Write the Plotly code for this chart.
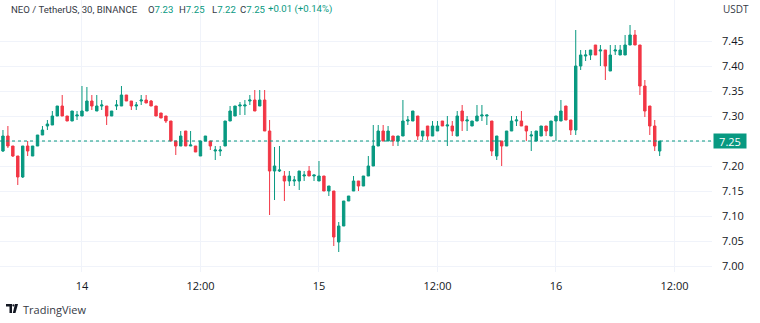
import pandas as pd
import plotly.graph_objects as go

# NEO/USDT 30-minute candles, Binance
start_time = "2023-01-13 16:00"
opens = [7.23, 7.26, 7.24, 7.22, 7.178, 7.24, 7.22, 7.24, 7.262, 7.28,
         7.282, 7.30, 7.32, 7.30, 7.29, 7.30, 7.30, 7.31, 7.33, 7.31,
         7.32, 7.32, 7.30, 7.32, 7.32, 7.342, 7.33, 7.32, 7.33, 7.332,
         7.33, 7.32, 7.306, 7.30, 7.29, 7.25, 7.24, 7.27, 7.24, 7.24,
         7.22, 7.25, 7.25, 7.23, 7.23, 7.24, 7.29, 7.30, 7.32, 7.32,
         7.33, 7.332, 7.32, 7.332, 7.27, 7.19, 7.19, 7.18, 7.17, 7.17,
         7.17, 7.18, 7.19, 7.18, 7.17, 7.18, 7.15, 7.15, 7.048, 7.08,
         7.13, 7.15, 7.17, 7.16, 7.18, 7.20, 7.24, 7.27, 7.25, 7.26,
         7.25, 7.26, 7.29, 7.29, 7.30, 7.26, 7.28, 7.26, 7.27, 7.29,
         7.28, 7.28, 7.26, 7.31, 7.29, 7.28, 7.29, 7.30, 7.30, 7.29,
         7.22, 7.25, 7.24, 7.27, 7.29, 7.29, 7.28, 7.26, 7.25, 7.26,
         7.28, 7.26, 7.29, 7.29, 7.32, 7.292, 7.272, 7.40, 7.42, 7.422,
         7.442, 7.43, 7.432, 7.39, 7.43, 7.422, 7.422, 7.442, 7.462, 7.442,
         7.36, 7.32, 7.28, 7.23]
highs = [7.272, 7.28, 7.24, 7.22, 7.24, 7.25, 7.24, 7.262, 7.28, 7.292,
         7.31, 7.32, 7.342, 7.30, 7.31, 7.31, 7.36, 7.358, 7.342, 7.342,
         7.332, 7.32, 7.31, 7.332, 7.36, 7.342, 7.33, 7.328, 7.342, 7.342,
         7.332, 7.32, 7.306, 7.30, 7.29, 7.25, 7.27, 7.27, 7.27, 7.24,
         7.25, 7.26, 7.25, 7.24, 7.24, 7.29, 7.32, 7.32, 7.328, 7.332,
         7.342, 7.352, 7.352, 7.352, 7.292, 7.238, 7.24, 7.19, 7.19, 7.18,
         7.19, 7.19, 7.20, 7.182, 7.21, 7.18, 7.16, 7.15, 7.088, 7.13,
         7.14, 7.18, 7.17, 7.18, 7.22, 7.282, 7.282, 7.282, 7.28, 7.26,
         7.26, 7.332, 7.30, 7.31, 7.30, 7.27, 7.28, 7.29, 7.29, 7.29,
         7.30, 7.29, 7.31, 7.322, 7.30, 7.29, 7.322, 7.322, 7.302, 7.29,
         7.26, 7.25, 7.27, 7.30, 7.30, 7.31, 7.28, 7.27, 7.27, 7.28,
         7.28, 7.29, 7.30, 7.332, 7.32, 7.292, 7.472, 7.432, 7.432, 7.432,
         7.442, 7.442, 7.432, 7.442, 7.442, 7.442, 7.462, 7.482, 7.472, 7.442,
         7.372, 7.32, 7.292, 7.25]
lows = [7.228, 7.236, 7.218, 7.162, 7.176, 7.22, 7.22, 7.24, 7.262, 7.272,
        7.282, 7.30, 7.30, 7.29, 7.29, 7.292, 7.30, 7.31, 7.312, 7.31,
        7.312, 7.282, 7.30, 7.312, 7.32, 7.33, 7.312, 7.312, 7.322, 7.326,
        7.32, 7.30, 7.296, 7.286, 7.25, 7.222, 7.24, 7.24, 7.24, 7.228,
        7.22, 7.25, 7.232, 7.212, 7.22, 7.24, 7.29, 7.30, 7.302, 7.302,
        7.322, 7.31, 7.32, 7.27, 7.102, 7.132, 7.188, 7.13, 7.16, 7.16,
        7.152, 7.17, 7.18, 7.17, 7.17, 7.15, 7.14, 7.04, 7.028, 7.08,
        7.13, 7.15, 7.15, 7.16, 7.18, 7.20, 7.24, 7.25, 7.25, 7.24,
        7.24, 7.26, 7.282, 7.29, 7.252, 7.252, 7.252, 7.26, 7.27, 7.28,
        7.24, 7.26, 7.26, 7.27, 7.27, 7.28, 7.29, 7.29, 7.282, 7.22,
        7.212, 7.20, 7.24, 7.27, 7.28, 7.28, 7.25, 7.23, 7.25, 7.26,
        7.26, 7.26, 7.25, 7.29, 7.292, 7.262, 7.262, 7.392, 7.41, 7.412,
        7.422, 7.40, 7.372, 7.39, 7.422, 7.422, 7.422, 7.442, 7.442, 7.342,
        7.298, 7.262, 7.23, 7.22]
closes = [7.26, 7.24, 7.22, 7.178, 7.24, 7.23, 7.24, 7.262, 7.272, 7.284,
          7.30, 7.32, 7.30, 7.29, 7.31, 7.302, 7.31, 7.33, 7.32, 7.32,
          7.322, 7.30, 7.31, 7.322, 7.342, 7.33, 7.32, 7.322, 7.332, 7.326,
          7.32, 7.30, 7.296, 7.29, 7.25, 7.24, 7.26, 7.24, 7.242, 7.228,
          7.25, 7.26, 7.24, 7.232, 7.232, 7.29, 7.31, 7.32, 7.322, 7.322,
          7.332, 7.31, 7.332, 7.27, 7.19, 7.20, 7.192, 7.17, 7.18, 7.172,
          7.19, 7.182, 7.18, 7.182, 7.18, 7.15, 7.16, 7.058, 7.08, 7.13,
          7.14, 7.17, 7.16, 7.18, 7.20, 7.24, 7.27, 7.25, 7.27, 7.25,
          7.26, 7.29, 7.292, 7.31, 7.26, 7.27, 7.26, 7.28, 7.28, 7.28,
          7.282, 7.27, 7.30, 7.29, 7.292, 7.29, 7.30, 7.302, 7.302, 7.23,
          7.26, 7.24, 7.27, 7.29, 7.292, 7.28, 7.27, 7.262, 7.27, 7.28,
          7.27, 7.29, 7.30, 7.31, 7.292, 7.272, 7.40, 7.422, 7.422, 7.432,
          7.422, 7.432, 7.40, 7.422, 7.432, 7.432, 7.442, 7.462, 7.442, 7.36,
          7.31, 7.28, 7.24, 7.25]

price_ticks = [7.00, 7.05, 7.10, 7.15, 7.20, 7.25, 7.30, 7.35, 7.40, 7.45]
time_ticks = ["2023-01-14 00:00", "2023-01-14 12:00", "2023-01-15 00:00",
              "2023-01-15 12:00", "2023-01-16 00:00", "2023-01-16 12:00"]
time_tick_labels = ["14", "12:00", "15", "12:00", "16", "12:00"]
last_price = 7.25

UP = "#089981"
DOWN = "#f23645"
GRID = "#f0f3fa"
TEXT = "#131722"
LABEL = "#363a45"

times = pd.date_range(start_time, periods=len(closes), freq="30min")
bar = pd.Timedelta("30min")

W, H = 760, 323
PLOT_W, PLOT_H = 712, 272

fig = go.Figure(go.Candlestick(
    x=times, open=opens, high=highs, low=lows, close=closes,
    increasing=dict(line=dict(color=UP, width=1), fillcolor=UP),
    decreasing=dict(line=dict(color=DOWN, width=1), fillcolor=DOWN),
    whiskerwidth=0, hoverinfo="skip",
))

# last price line
fig.add_hline(y=last_price, line=dict(color=UP, width=1, dash="dot"))


def px(x):
    return x / PLOT_W


def py(y):
    return (PLOT_H - y) / PLOT_H


font = "Open Sans, Noto Sans, sans-serif"
hfont = "Roboto, Liberation Sans, sans-serif"
HSIZE = 9.6

annotations = []
# legend header: symbol line and OHLC of the last bar
annotations.append(dict(text="NEO / TetherUS, 30, BINANCE", x=px(9), y=py(9.5),
                        font=dict(color=LABEL, size=HSIZE, family=hfont)))
values = [("O", f"{opens[-1]:.2f}", 146), ("H", f"{highs[-1]:.2f}", 177),
          ("L", f"{lows[-1]:.2f}", 210), ("C", f"{closes[-1]:.2f}", 238)]
for letter, val, xpos in values:
    annotations.append(dict(
        text=f"{letter}<span style='color:{UP}'>{val}</span>",
        x=px(xpos), y=py(9.5), font=dict(color=LABEL, size=HSIZE, family=hfont)))
chg = closes[-1] - closes[-2]
annotations.append(dict(text=f"{chg:+.2f} ({chg / closes[-2] * 100:+.2f}%)",
                        x=px(266), y=py(9.5), font=dict(color=UP, size=HSIZE, family=hfont)))
for a in annotations:
    a.update(xref="paper", yref="paper", showarrow=False, xanchor="left", yanchor="middle")

# currency label on price scale
annotations.append(dict(text="USDT", xref="paper", yref="paper", x=px(721), y=py(9),
                        xanchor="left", yanchor="middle", showarrow=False,
                        bgcolor="white", font=dict(color=LABEL, size=10, family=font)))
# last price badge
annotations.append(dict(text=f"{last_price:.2f}", xref="paper", yref="y", x=px(713), y=last_price,
                        xanchor="left", yanchor="middle", showarrow=False,
                        bgcolor=UP, borderpad=0, width=32, height=14,
                        font=dict(color="white", size=11, family=font)))
# brand line under the chart
annotations.append(dict(text="TradingView", xref="paper", yref="paper", x=px(21), y=py(309),
                        xanchor="left", yanchor="middle", showarrow=False,
                        font=dict(color=LABEL, size=11, family=font)))

shapes = [
    # outer chart frame
    dict(type="rect", xref="paper", yref="paper", x0=px(0.5), x1=px(756.5), y0=py(297),
         y1=py(-2), line=dict(color="#e0e3eb", width=1), layer="below"),
    # TV logo glyph
    dict(type="path", xref="paper", yref="paper",
         path=(f"M {px(6)},{py(304)} L {px(12)},{py(304)} L {px(12)},{py(313)} L {px(9.5)},{py(313)} "
               f"L {px(9.5)},{py(306.5)} L {px(6)},{py(306.5)} Z"),
         fillcolor=TEXT, line=dict(width=0)),
    dict(type="circle", xref="paper", yref="paper", x0=px(12.3), x1=px(14.5), y0=py(306.5),
         y1=py(304.3), fillcolor=TEXT, line=dict(width=0)),
    dict(type="path", xref="paper", yref="paper",
         path=(f"M {px(15)},{py(304)} L {px(18)},{py(304)} L {px(15.5)},{py(313)} "
               f"L {px(12.8)},{py(313)} Z"),
         fillcolor=TEXT, line=dict(width=0)),
]

fig.update_layout(
    width=W, height=H,
    margin=dict(l=0, r=W - PLOT_W, t=0, b=H - PLOT_H),
    paper_bgcolor="white", plot_bgcolor="white",
    showlegend=False,
    annotations=annotations,
    shapes=shapes,
    boxgap=0.3,
    xaxis=dict(
        type="date",
        range=[times[0] - 0.6 * bar, times[0] + 143.6 * bar],
        rangeslider=dict(visible=False),
        tickvals=time_ticks, ticktext=time_tick_labels,
        showgrid=True, gridcolor=GRID, gridwidth=1,
        zeroline=False, showline=False, ticks="",
        tickfont=dict(color=TEXT, size=11, family=font),
        ticklabelstandoff=6,
    ),
    yaxis=dict(
        side="right",
        range=[7.0 - (PLOT_H - 266) / 500, 7.0 + 266 / 500],
        tickvals=price_ticks,
        # the last-price badge sits over its own level on the scale
        ticktext=["" if abs(v - last_price) < 1e-9 else f"{v:.2f}" for v in price_ticks],
        showgrid=True, gridcolor=GRID, gridwidth=1,
        zeroline=False, showline=False, ticks="",
        tickfont=dict(color=TEXT, size=11, family=font),
        ticklabelstandoff=9,
    ),
)

fig.write_html("out.html")
